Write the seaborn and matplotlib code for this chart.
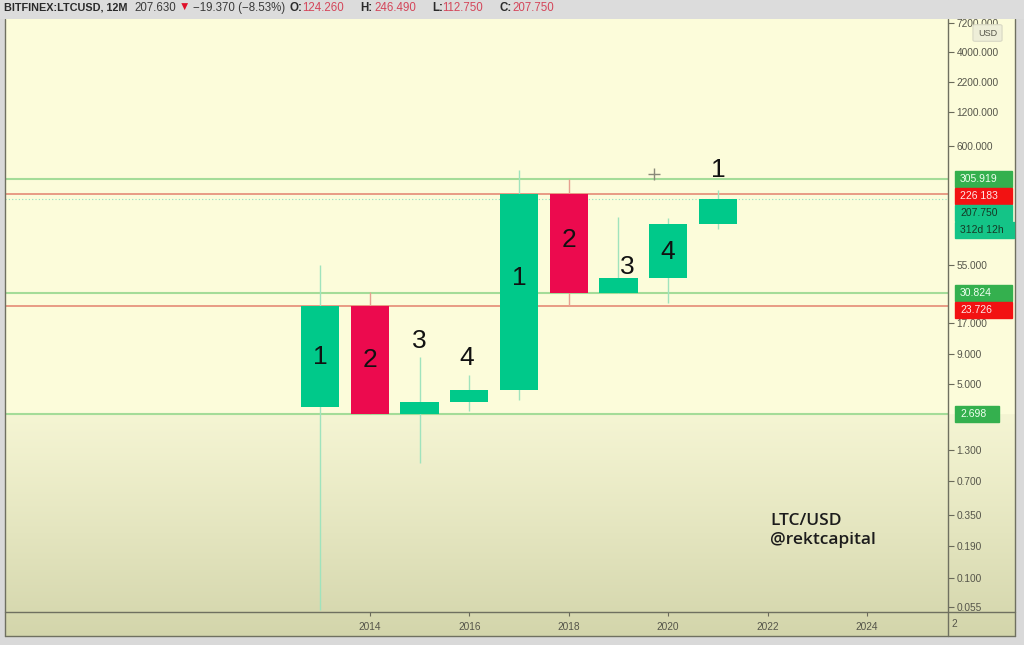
import numpy as np
import matplotlib
matplotlib.use("Agg")
import matplotlib.pyplot as plt
import matplotlib.colors as mcolors
from matplotlib.patches import Rectangle, FancyBboxPatch
from matplotlib.ticker import FixedLocator, FixedFormatter
import seaborn as sns

# yearly LTC/USD candles (Bitfinex, 12M)
years = [2013, 2014, 2015, 2016, 2017, 2018, 2019, 2020, 2021]
opens = [3.13, 23.73, 2.70, 3.47, 4.39, 226.18, 30.82, 41.7, 124.26]
highs = [54.6, 31.5, 8.6, 5.94, 370.0, 306.0, 145.0, 140.0, 246.49]
lows = [0.052, 2.70, 1.0, 2.89, 3.6, 23.7, 30.82, 25.2, 112.75]
closes = [23.73, 2.70, 3.42, 4.39, 226.18, 30.82, 41.7, 124.26, 207.75]

# cycle numbers drawn on the candles
cycle_labels = ["1", "2", "3", "4", "1", "2", "3", "4", "1"]
cycle_label_y = [8.5, 8.0, 11.8, 8.4, 42, 90, 52, 71, 370]
cycle_label_dx = [0, 0, 0, -0.05, 0, 0, 0.18, 0, 0]

# horizontal levels
green_levels = [305.919, 30.824, 2.698]
red_levels = [226.183, 23.726]
last_price = 207.750

price_ticks = [7200, 4000, 2200, 1200, 600, 55, 17, 9, 5, 1.3, 0.7, 0.35, 0.19, 0.1, 0.055]
year_ticks = [2014, 2016, 2018, 2020, 2022, 2024]

sns.set_style("white")
plt.rcParams["font.family"] = ["Liberation Sans", "DejaVu Sans"]

W, H = 1024, 645
fig = plt.figure(figsize=(W / 100, H / 100), dpi=100, facecolor="#d9d9d9")


def px(x, y, w, h):
    return [x / W, 1 - (y + h) / H, w / W, h / H]


# background with the dark vignette towards the bottom
bg = fig.add_axes(px(5, 19, 1010, 617))
bg.set_axis_off()
rows = np.arange(19, 636)
top = np.array(mcolors.to_rgb("#fcfcda"))
lo1 = np.array(mcolors.to_rgb("#f5f5d3"))
lo2 = np.array(mcolors.to_rgb("#d3d5ab"))
grad = np.zeros((len(rows), 1, 3))
for i, r in enumerate(rows):
    if r < 414:
        grad[i, 0] = top
    else:
        t = (r - 414) / (636 - 414)
        grad[i, 0] = lo1 + (lo2 - lo1) * t ** 1.1
bg.imshow(grad, aspect="auto", extent=[0, 1, 0, 1])
bg.set_xlim(0, 1)
bg.set_ylim(0, 1)

ax = fig.add_axes(px(5, 19, 943, 593))
ax.set_facecolor("none")
ax.set_yscale("log")
ax.set_xlim(2006.66, 2025.63)
ax.set_ylim(0.0499, 7780)

green = "#00c98a"
red = "#ec0a4e"
width = 0.77
for yr, o, h, l, c in zip(years, opens, highs, lows, closes):
    up = c >= o
    ax.vlines(yr, l, h, color="#9fe3bd" if up else "#e6a090", lw=1.0, zorder=2)
    ax.bar(yr, abs(c - o), bottom=min(o, c), width=width,
           color=green if up else red, zorder=3, linewidth=0)

for lv in green_levels:
    ax.axhline(lv, color="#a4dc98", lw=1.5, zorder=1)
for lv in red_levels:
    ax.axhline(lv, color="#e58a76", lw=1.2, zorder=1)
ax.axhline(last_price, color="#8fe0bf", lw=0.8, ls=(0, (1, 2)), zorder=1)

for yr, lab, ly, dx in zip(years, cycle_labels, cycle_label_y, cycle_label_dx):
    ax.text(yr + dx, ly, lab, ha="center", va="center", fontsize=19,
            color="#111111", zorder=5)

# cursor cross
ax.plot([2019.71], [342], marker="+", ms=8, color="#8a8a7a", mew=1, zorder=4)

for yy, txt in [(521, "LTC/USD"), (540, "@rektcapital")]:
    fig.text(770 / W, 1 - yy / H, txt, fontsize=12.5,
             family=["Open Sans", "DejaVu Sans"], fontweight="semibold",
             color="#1c1c1c", va="center", ha="left")

# axes styling
for s in ax.spines.values():
    s.set_visible(False)
ax.yaxis.tick_right()
ax.yaxis.set_major_locator(FixedLocator(price_ticks))
ax.yaxis.set_major_formatter(FixedFormatter([f"{t:.3f}" for t in price_ticks]))
ax.yaxis.set_minor_locator(FixedLocator([]))
ax.tick_params(axis="y", which="major", length=4, width=0.8, color="#6a6a5a",
               labelsize=7.3, labelcolor="#55554a", pad=2, right=True, left=False)
ax.set_xticks(year_ticks)
ax.set_xticklabels([str(y) for y in year_ticks])
ax.tick_params(axis="x", length=3, width=0.8, color="#6a6a5a", labelsize=7.3,
               labelcolor="#55554a", pad=4, bottom=True)
ax.grid(False)

# frame lines of the chart panes
for x0, y0, x1, y1 in [(948, 19, 948, 636), (5, 612, 1015, 612), (1015, 19, 1015, 636),
                       (5, 636, 1015, 636), (5, 19, 5, 636)]:
    fig.add_artist(plt.Line2D([x0 / W, x1 / W], [1 - y0 / H, 1 - y1 / H],
                              color="#6f7060", lw=1.0, zorder=6))
fig.text(957 / W, 1 - 624 / H, "2", fontsize=7.3, color="#55554a", ha="right", va="center")

# price labels on the right scale
tr = ax.transData
boxes = [(305.919, "305.919", "#34b04e", "#f0fff0", 57),
         (226.183, "226 183", "#f21212", "#ffe8e8", 57),
         (207.750, "207.750", "#14c487", "#143a26", 57),
         (207.750, "312d 12h", "#14c487", "#143a26", 59),
         (30.824, "30.824", "#34b04e", "#f0fff0", 57),
         (23.726, "23.726", "#f21212", "#ffe8e8", 57),
         (2.698, "2.698", "#34b04e", "#f0fff0", 44)]
prev = -100
for val, txt, fc, tc, bw in boxes:
    ypix = H - tr.transform((2010, val))[1]
    yc = max(ypix, prev + 17)
    prev = yc
    fig.add_artist(Rectangle((955 / W, 1 - (yc + 8) / H), bw / W, 16 / H,
                             transform=fig.transFigure, fc=fc, ec=fc, zorder=7))
    fig.text(960 / W, 1 - yc / H, txt, fontsize=7.5, color=tc, ha="left",
             va="center", zorder=8)

# USD badge
fig.add_artist(FancyBboxPatch((975 / W, 1 - 40 / H), 25 / W, 14 / H,
                              boxstyle="round,pad=0.002", transform=fig.transFigure,
                              fc="#eeeed8", ec="#d8d8c4", lw=0.8, zorder=7))
fig.text(987.5 / W, 1 - 33 / H, "USD", fontsize=6.5, color="#55554a",
         ha="center", va="center", zorder=8)

# header bar
fig.add_artist(Rectangle((0, 1 - 19 / H), 1, 19 / H, transform=fig.transFigure,
                         fc="#dcdcdc", ec="none", zorder=9))
hy = 1 - 8 / H
dark = "#2a2a2a"
redtxt = "#d4465a"
pieces = [(4, "BITFINEX:LTCUSD, 12M", dark, "bold", 7.8),
          (134, "207.630", "#3a3a3a", "normal", 8.3),
          (179, "\u25bc", "#e0102a", "normal", 8.3),
          (193, "\u221219.370 (\u22128.53%)", "#3a3a3a", "normal", 8.3),
          (289, "O:", dark, "bold", 8.3), (302, "124.260", redtxt, "normal", 8.3),
          (360, "H:", dark, "bold", 8.3), (374, "246.490", redtxt, "normal", 8.3),
          (432, "L:", dark, "bold", 8.3), (442, "112.750", redtxt, "normal", 8.3),
          (500, "C:", dark, "bold", 8.3), (512, "207.750", redtxt, "normal", 8.3)]
for x, t, col, fw, fs in pieces:
    fig.text(x / W, hy, t, fontsize=fs, color=col, fontweight=fw,
             ha="left", va="center", zorder=10)

fig.savefig("out.png", dpi=100)
